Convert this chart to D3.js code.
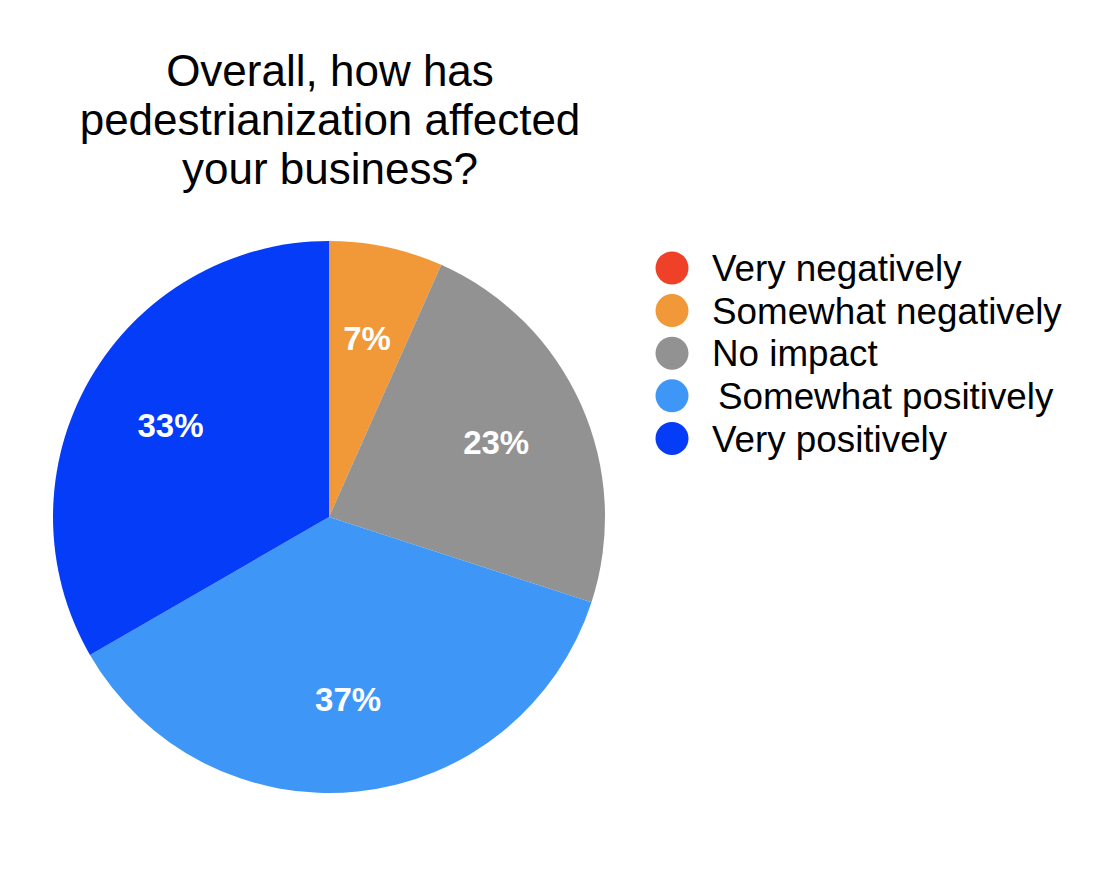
<!DOCTYPE html>
<html>
<head>
<meta charset="utf-8">
<script src="https://cdn.jsdelivr.net/npm/d3@7.9.0/dist/d3.min.js"></script>
<style>
  html, body { margin: 0; padding: 0; background: #fff; }
  svg { display: block; font-family: "Liberation Sans", Arial, Helvetica, sans-serif; }
</style>
</head>
<body>
<svg id="chart" width="1098" height="874"></svg>
<script>
const titleLines = ['Overall, how has', 'pedestrianization affected', 'your business?'];
const categories = ['Very negatively', 'Somewhat negatively', 'No impact', 'Somewhat positively', 'Very positively'];
const responses = [0, 2, 7, 11, 10];
const colors = ['#ee4128', '#f19838', '#929292', '#3e97f7', '#053cf7'];

const svg = d3.select('#chart');
const cx = 329, cy = 517, radius = 276;

svg.append('text')
  .attr('x', 330)
  .attr('y', 86)
  .attr('text-anchor', 'middle')
  .attr('font-size', 44)
  .attr('fill', '#000')
  .selectAll('tspan')
  .data(titleLines)
  .enter()
  .append('tspan')
    .attr('x', 330)
    .attr('dy', (d, i) => i === 0 ? 0 : 49)
    .text(d => d);

const data = categories.map((c, i) => ({ name: c, value: responses[i], color: colors[i] }));
const total = d3.sum(responses);

const pie = d3.pie().sort(null).value(d => d.value);
const arc = d3.arc().innerRadius(0).outerRadius(radius);
const labelArc = d3.arc().innerRadius(183).outerRadius(183);

const g = svg.append('g').attr('transform', `translate(${cx},${cy})`);
const arcs = pie(data).filter(d => d.data.value > 0);

g.selectAll('path')
  .data(arcs)
  .enter()
  .append('path')
    .attr('d', arc)
    .attr('fill', d => d.data.color);

g.selectAll('text')
  .data(arcs)
  .enter()
  .append('text')
    .attr('transform', d => `translate(${labelArc.centroid(d)})`)
    .attr('text-anchor', 'middle')
    .attr('dy', '0.36em')
    .attr('font-size', 33)
    .attr('font-weight', 'bold')
    .attr('fill', '#fff')
    .text(d => Math.round(d.data.value / total * 100) + '%');

const legend = svg.append('g').attr('transform', 'translate(672,268)');
const rows = legend.selectAll('g')
  .data(data)
  .enter()
  .append('g')
    .attr('transform', (d, i) => `translate(0,${i * 42.6})`);

rows.append('circle')
  .attr('r', 16.5)
  .attr('fill', d => d.color);

rows.append('text')
  .attr('x', (d, i) => i === 3 ? 46 : 40)
  .attr('dy', '0.36em')
  .attr('font-size', 36.8)
  .attr('fill', '#000')
  .text(d => d.name);
</script>
</body>
</html>
